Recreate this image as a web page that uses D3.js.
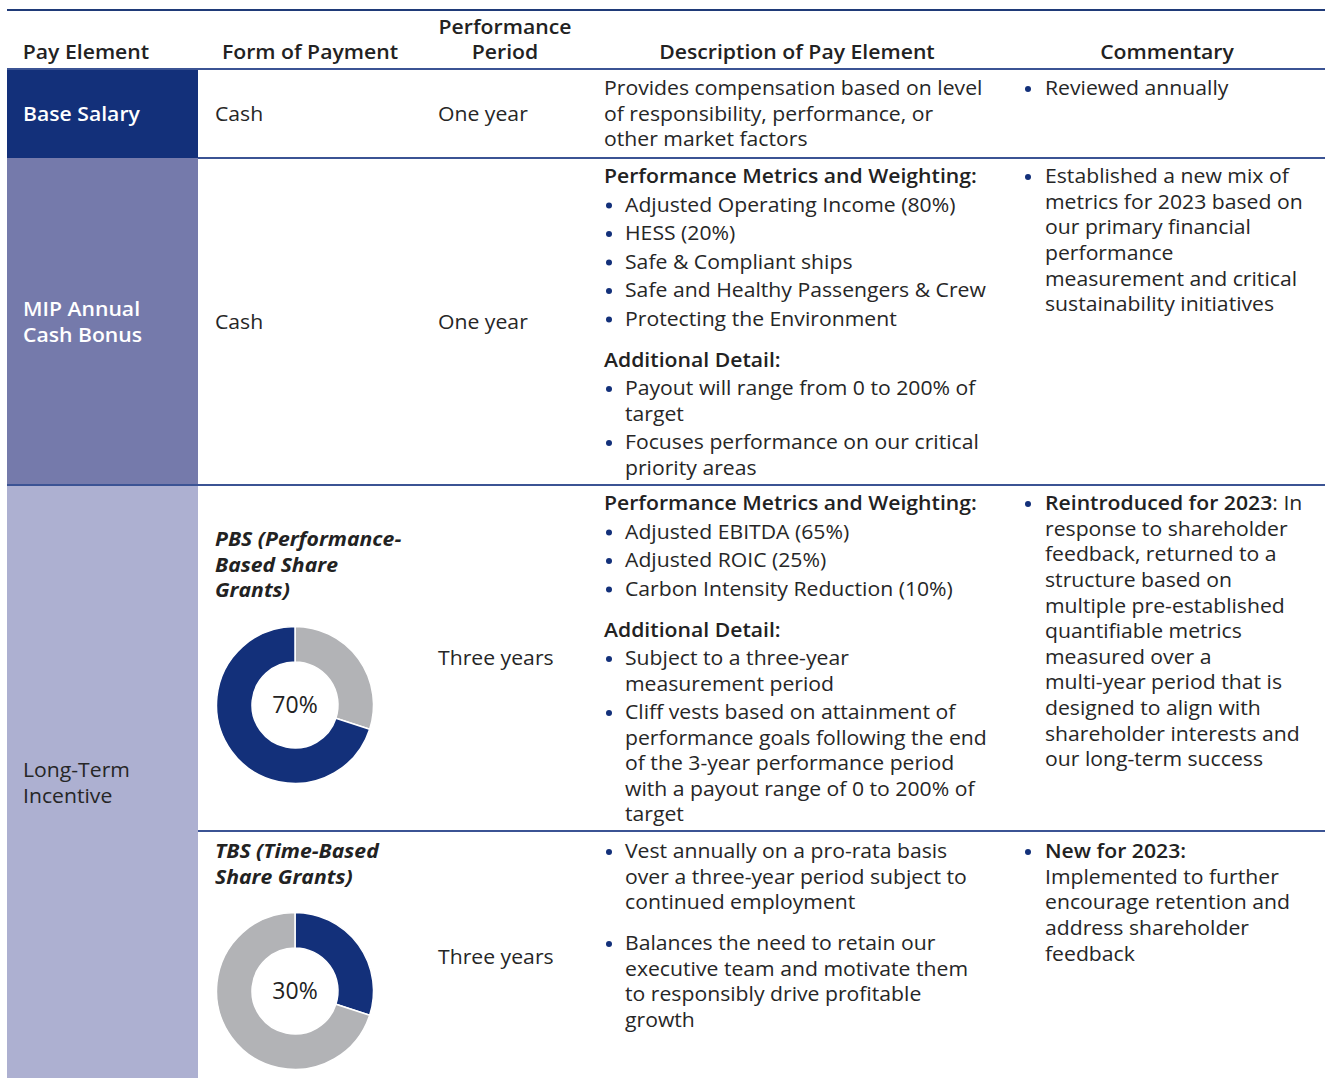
<!DOCTYPE html>
<html>
<head>
<meta charset="utf-8">
<script src="https://cdn.jsdelivr.net/npm/d3@7"></script>
<style>
  html, body { margin: 0; padding: 0; background: #fff; }
  svg { display: block; font-family: "Open Sans", "Noto Sans", sans-serif; }
</style>
</head>
<body>
<svg id="chart" width="1325" height="1078"></svg>
<script>
// ---------------- DATA ----------------
const headers = [
  ["Pay Element"],
  ["Form of Payment"],
  ["Performance", "Period"],
  ["Description of Pay Element"],
  ["Commentary"]
];

const payElements = [
  ["Base Salary"],
  ["MIP Annual", "Cash Bonus"],
  ["Long-Term", "Incentive"]
];

const formOfPayment = ["Cash", "Cash"];
const subGrantTitles = [
  ["PBS (Performance-", "Based Share", "Grants)"],
  ["TBS (Time-Based", "Share Grants)"]
];
const performancePeriods = ["One year", "One year", "Three years", "Three years"];

// LTI mix (share of LTI grant value)
const ltiMixLabels = ["PBS", "TBS"];
const ltiMixValues = [70, 30];

// description blocks: sections -> items -> lines ; head = bold heading line
const descBase = [
  { head: null, bullets: false, items: [["Provides compensation based on level", "of responsibility, performance, or", "other market factors"]] }
];
const descMip = [
  { head: "Performance Metrics and Weighting:", bullets: true, items: [
    ["Adjusted Operating Income (80%)"], ["HESS (20%)"], ["Safe & Compliant ships"],
    ["Safe and Healthy Passengers & Crew"], ["Protecting the Environment"] ] },
  { head: "Additional Detail:", bullets: true, items: [
    ["Payout will range from 0 to 200% of", "target"],
    ["Focuses performance on our critical", "priority areas"] ] }
];
const descPbs = [
  { head: "Performance Metrics and Weighting:", bullets: true, items: [
    ["Adjusted EBITDA (65%)"], ["Adjusted ROIC (25%)"], ["Carbon Intensity Reduction (10%)"] ] },
  { head: "Additional Detail:", bullets: true, items: [
    ["Subject to a three-year", "measurement period"],
    ["Cliff vests based on attainment of", "performance goals following the end", "of the 3-year performance period", "with a payout range of 0 to 200% of", "target"] ] }
];
const descTbs = [
  { head: null, bullets: true, items: [["Vest annually on a pro-rata basis", "over a three-year period subject to", "continued employment"]] },
  { head: null, bullets: true, items: [["Balances the need to retain our", "executive team and motivate them", "to responsibly drive profitable", "growth"]] }
];

// commentary: each line is list of [text, bold]
const commBase = [[["Reviewed annually", false]]];
const commMip = [[["Established a new mix of", false]], [["metrics for 2023 based on", false]], [["our primary financial", false]],
  [["performance", false]], [["measurement and critical", false]], [["sustainability initiatives", false]]];
const commPbs = [[["Reintroduced for 2023", true], [": In", false]], [["response to shareholder", false]], [["feedback, returned to a", false]],
  [["structure based on", false]], [["multiple pre-established", false]], [["quantifiable metrics", false]], [["measured over a", false]],
  [["multi-year period that is", false]], [["designed to align with", false]], [["shareholder interests and", false]], [["our long-term success", false]]];
const commTbs = [[["New for 2023:", true]], [["Implemented to further", false]], [["encourage retention and", false]],
  [["address shareholder", false]], [["feedback", false]]];

// ---------------- LAYOUT ----------------
const W = 1325, H = 1078;
const colX = [7, 198, 420, 590, 1010, 1325];
const rowY = [10, 69, 158, 485, 1078];
const subRowY = 831;
const NAVY = "#13307a", GRAY = "#b2b3b6", TEXT = "#262626";
const rowFills = ["#13307a", "#757aab", "#adb0d1"];
const rowLabelColors = ["#ffffff", "#ffffff", "#262626"];
const rowLabelWeights = [600, 600, 500];
const FS = 20, SX = 1.06, LH = 25.5, ITEM_GAP = 3, SECTION_GAP = 15.5, BASE_OFF = 7.2;
const HFS = 19.5, HSX = 1.087;

const svg = d3.select("#chart");

// column 1 fills
svg.selectAll("rect.rowfill").data(payElements).join("rect")
  .attr("class", "rowfill")
  .attr("x", colX[0]).attr("width", colX[1] - colX[0])
  .attr("y", (d, i) => rowY[i + 1]).attr("height", (d, i) => rowY[i + 2] - rowY[i + 1])
  .attr("fill", (d, i) => rowFills[i]);

// horizontal lines
svg.append("line").attr("x1", colX[0]).attr("x2", W).attr("y1", rowY[0]).attr("y2", rowY[0])
  .attr("stroke", "#1f3a78").attr("stroke-width", 2);
[rowY[1], rowY[2], rowY[3]].forEach((y, i) => {
  svg.append("line").attr("x1", i === 1 ? colX[1] : colX[0]).attr("x2", W).attr("y1", y).attr("y2", y)
    .attr("stroke", "#3b5394").attr("stroke-width", 2);
});
svg.append("line").attr("x1", colX[1]).attr("x2", W).attr("y1", subRowY).attr("y2", subRowY)
  .attr("stroke", "#3b5394").attr("stroke-width", 2);

// text layers (slightly widened glyphs to match the reference face)
const tg = svg.append("g").attr("transform", `scale(${SX},1)`);
const hg = svg.append("g").attr("transform", `scale(${HSX},1)`);
const sx = x => x / SX;

// headers
const headerCenters = [86, 310, 505, 797, 1167];
headers.forEach((lines, i) => {
  const t = hg.append("text").attr("text-anchor", "middle").attr("font-size", HFS).attr("font-weight", 600).attr("fill", "#222");
  lines.forEach((ln, j) => {
    t.append("tspan").attr("x", headerCenters[i] / HSX).attr("y", 51.5 - (lines.length - 1 - j) * 25 + BASE_OFF).text(ln);
  });
});

// column 1 labels
payElements.forEach((lines, i) => {
  const top = rowY[i + 1], bot = rowY[i + 2];
  const mid = (top + bot) / 2 + (i === 2 ? 1.5 : 0);
  const t = tg.append("text").attr("font-size", FS).attr("font-weight", rowLabelWeights[i]).attr("fill", rowLabelColors[i]);
  lines.forEach((ln, j) => {
    t.append("tspan").attr("x", sx(23)).attr("y", mid + (j - (lines.length - 1) / 2) * 26 + BASE_OFF).text(ln);
  });
});

// simple one-line cells
function centerText(x, yMid, str) {
  tg.append("text").attr("x", sx(x)).attr("y", yMid + BASE_OFF).attr("font-size", FS).attr("fill", TEXT).text(str);
}
const cellMids = [(rowY[1] + rowY[2]) / 2, (rowY[2] + rowY[3]) / 2, (rowY[3] + subRowY) / 2, (subRowY + rowY[4]) / 2 + 2];
formOfPayment.forEach((s, i) => centerText(215, cellMids[i], s));
performancePeriods.forEach((s, i) => centerText(438, cellMids[i], s));

// sub grant titles
const titleTops = [539, 851];
subGrantTitles.forEach((lines, i) => {
  const t = tg.append("text").attr("font-size", FS).attr("font-weight", 700).attr("font-style", "italic").attr("fill", "#222");
  lines.forEach((ln, j) => t.append("tspan").attr("x", sx(215)).attr("y", titleTops[i] + j * 25.5 + BASE_OFF).text(ln));
});

// donuts
const pie = d3.pie().sort(null).value(d => d.value);
const arc = d3.arc().innerRadius(43).outerRadius(78.5);
const donutCenters = [[295, 705], [295, 991]];
ltiMixLabels.forEach((lab, i) => {
  const other = 1 - i;
  // slice order: clockwise from 12 o'clock; highlighted grant navy
  const slices = i === 0
    ? [{ key: ltiMixLabels[other], value: ltiMixValues[other], hi: false }, { key: lab, value: ltiMixValues[i], hi: true }]
    : [{ key: lab, value: ltiMixValues[i], hi: true }, { key: ltiMixLabels[other], value: ltiMixValues[other], hi: false }];
  const g = svg.append("g").attr("transform", `translate(${donutCenters[i][0]},${donutCenters[i][1]})`);
  g.selectAll("path").data(pie(slices)).join("path")
    .attr("d", arc)
    .attr("fill", d => d.data.hi ? NAVY : GRAY)
    .attr("stroke", "#fff").attr("stroke-width", 1.5);
  g.append("text").attr("text-anchor", "middle").attr("y", 8).attr("font-size", 23).attr("font-weight", 500)
    .attr("fill", "#222").text(ltiMixValues[i] + "%");
});

// description blocks
function renderBlocks(sections, startY) {
  let y = startY;
  sections.forEach((sec, si) => {
    if (si > 0) y += SECTION_GAP;
    let first = true;
    if (sec.head) {
      tg.append("text").attr("x", sx(604)).attr("y", y + BASE_OFF).attr("font-size", FS).attr("font-weight", 600)
        .attr("fill", "#222").text(sec.head);
      y += LH; first = false;
    }
    sec.items.forEach(item => {
      if (!first) y += ITEM_GAP;
      first = false;
      if (sec.bullets) {
        svg.append("circle").attr("cx", 609).attr("cy", y + 1).attr("r", 3).attr("fill", NAVY);
      }
      item.forEach(ln => {
        tg.append("text").attr("x", sx(sec.bullets ? 625 : 604)).attr("y", y + BASE_OFF).attr("font-size", FS)
          .attr("fill", TEXT).text(ln);
        y += LH;
      });
    });
  });
}
renderBlocks(descBase, 88);
renderBlocks(descMip, 176);
renderBlocks(descPbs, 503);
renderBlocks(descTbs, 851);

// commentary
function renderComm(lines, startY) {
  svg.append("circle").attr("cx", 1028).attr("cy", startY + 1).attr("r", 3).attr("fill", NAVY);
  lines.forEach((parts, j) => {
    const t = tg.append("text").attr("x", sx(1045)).attr("y", startY + j * 25.6 + BASE_OFF).attr("font-size", FS).attr("fill", TEXT);
    parts.forEach(p => t.append("tspan").attr("font-weight", p[1] ? 600 : 400).attr("fill", p[1] ? "#222" : TEXT).text(p[0]));
  });
}
renderComm(commBase, 88);
renderComm(commMip, 176);
renderComm(commPbs, 503);
renderComm(commTbs, 851);
</script>
</body>
</html>
